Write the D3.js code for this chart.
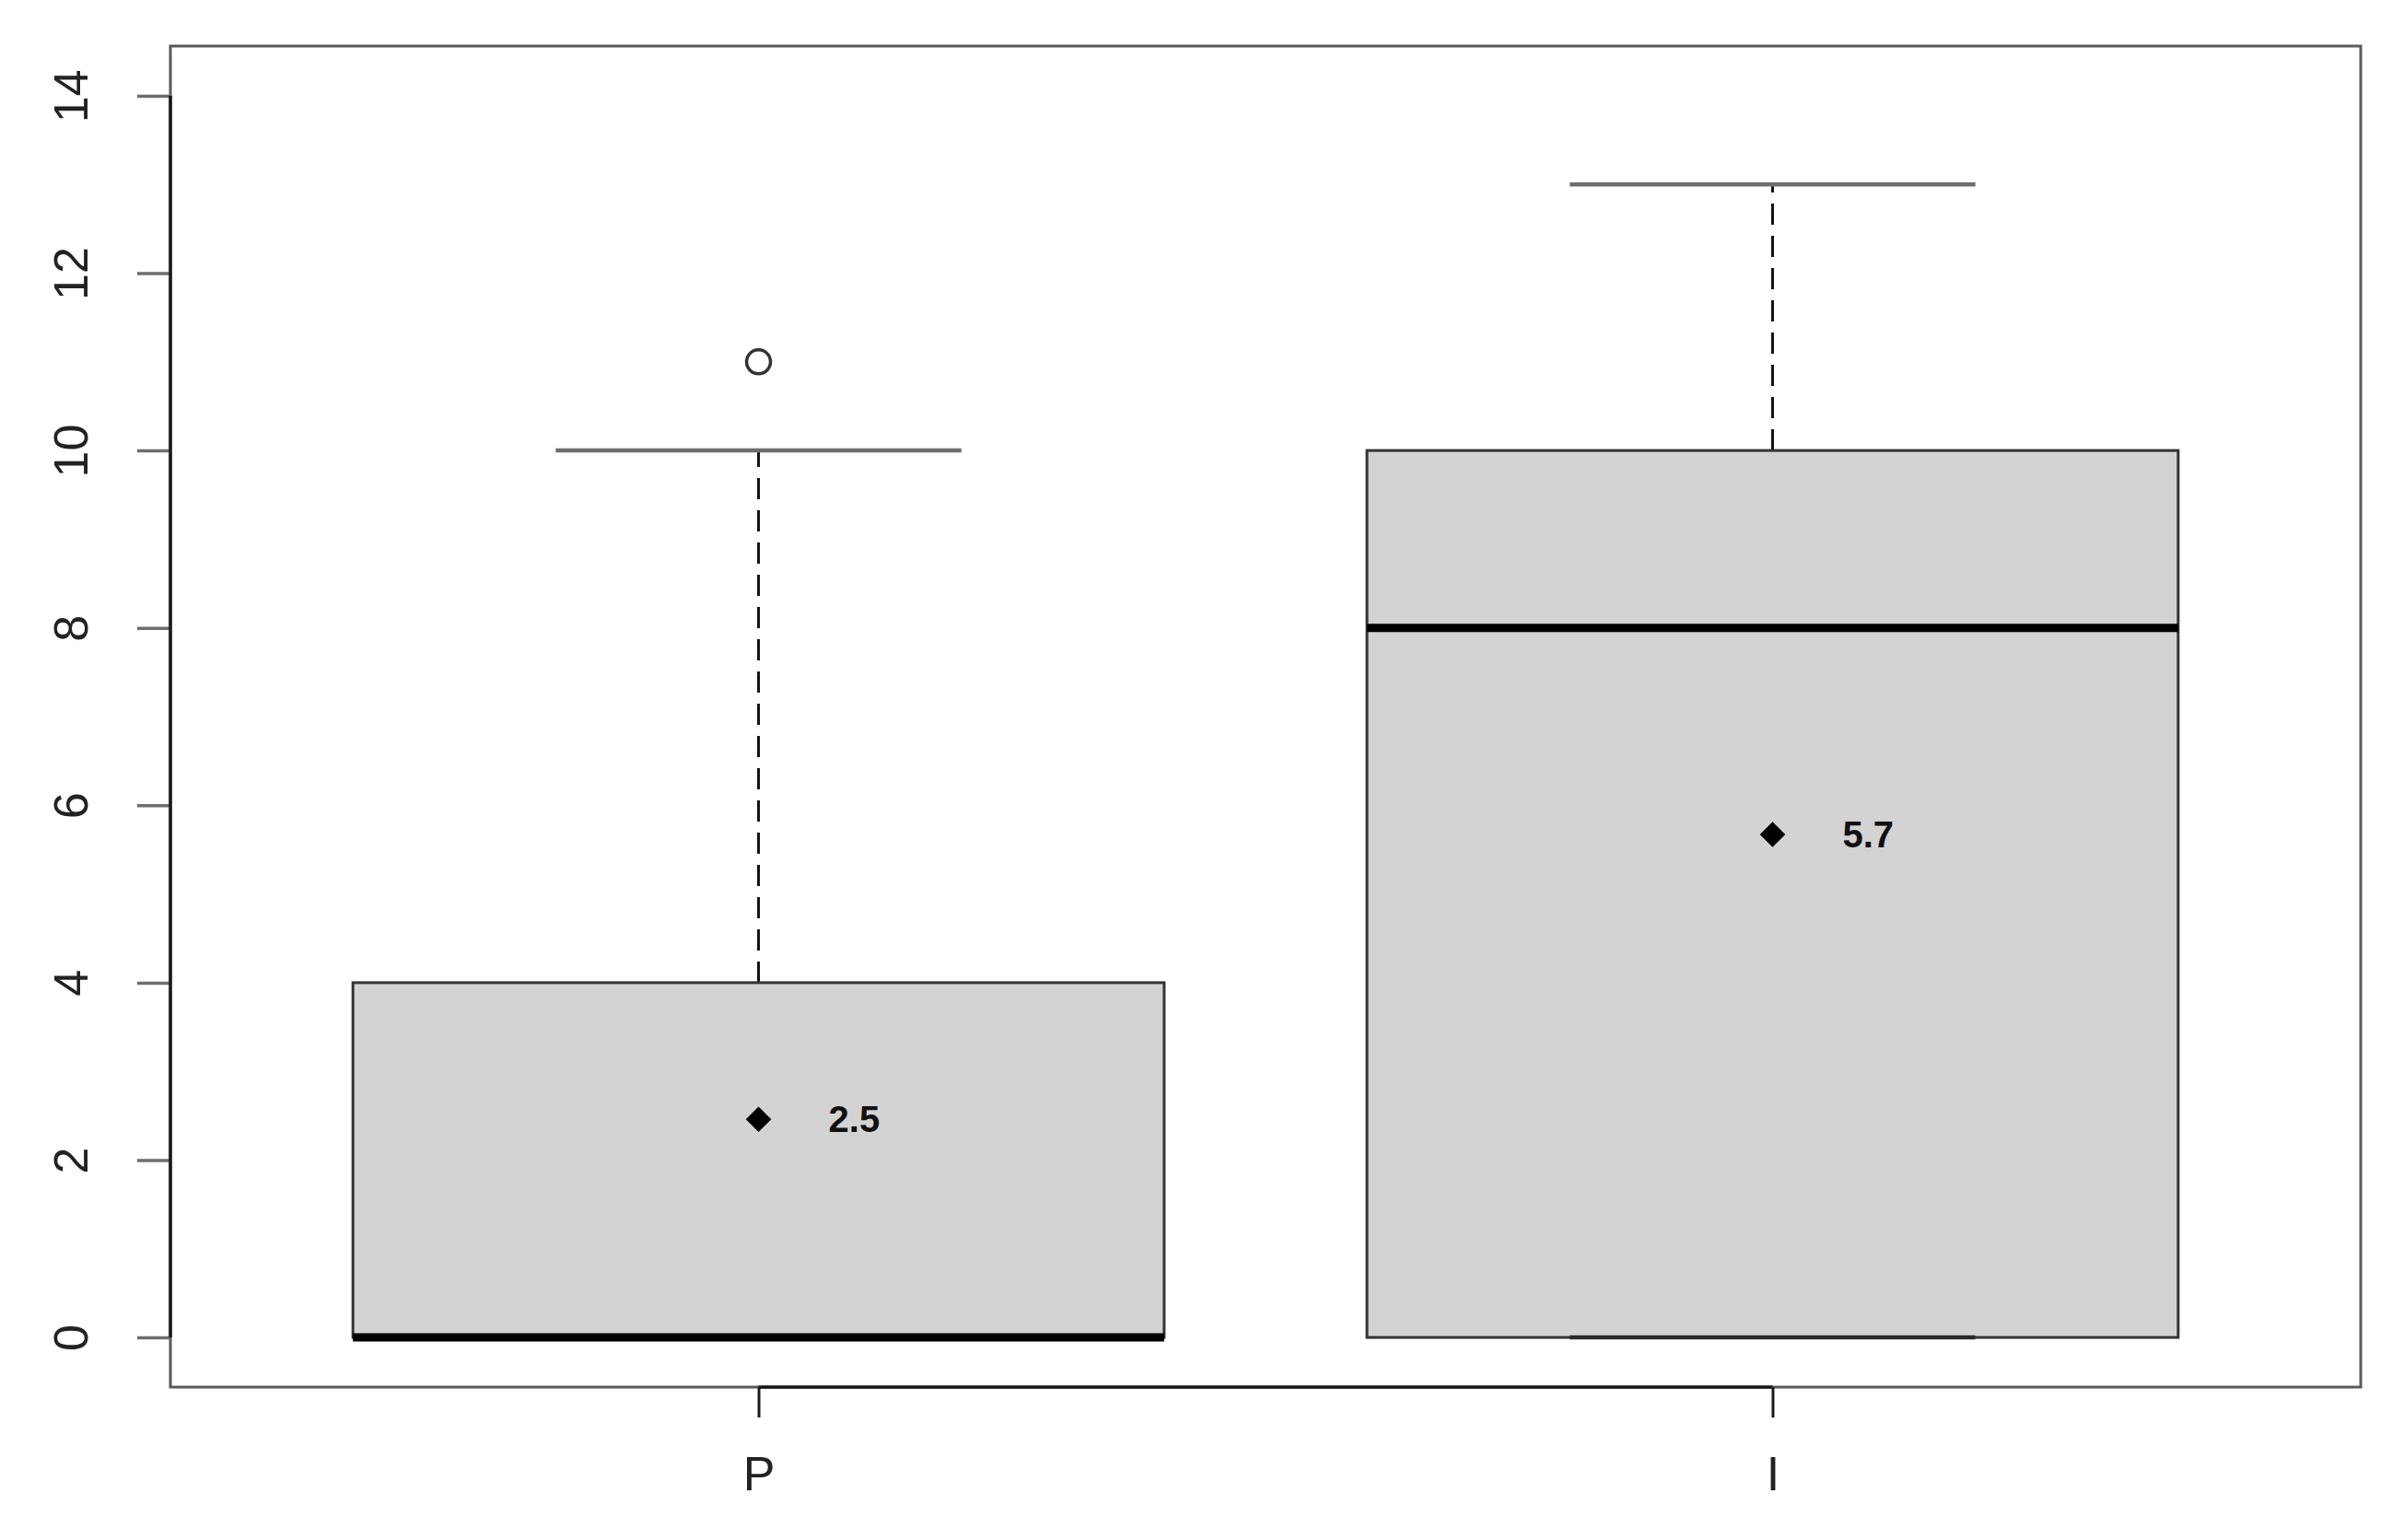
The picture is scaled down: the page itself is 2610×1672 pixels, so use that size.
<!DOCTYPE html>
<html>
<head>
<meta charset="utf-8">
<script src="https://cdn.jsdelivr.net/npm/d3@7"></script>
<style>
  html, body { margin: 0; padding: 0; background: #fff; }
  svg { display: block; font-family: "Liberation Sans", Arial, sans-serif; }
</style>
</head>
<body>
<svg id="chart" width="2610" height="1672"></svg>
<script>
// groups and their five-number summaries
const groups = ["P", "I"]
const lowerWhisker = [0, 0]
const lowerQuartile = [0, 0]
const medians = [0, 8]
const upperQuartile = [4, 10]
const upperWhisker = [10, 13]
const outliers = [[11], []]
const means = [2.46, 5.67]
const meanLabels = ["2.5", "5.7"]
const yTicks = [0, 2, 4, 6, 8, 10, 12, 14]

const W = 2610, H = 1672
const plot = { left: 185, right: 2563, top: 50, bottom: 1506 }

const svg = d3.select("#chart")
svg.append("rect").attr("width", W).attr("height", H).attr("fill", "#fff")

// R style: xlim 0.5..2.5 and ylim 0..14, both padded by 4%
const x = d3.scaleLinear().domain([0.42, 2.58]).range([plot.left, plot.right])
const y = d3.scaleLinear().domain([-0.56, 14.56]).range([plot.bottom, plot.top])

const boxW = x(1.8) - x(1)   // 0.8 wide boxes
const capW = x(1.4) - x(1)   // 0.4 wide caps

const data = groups.map((g, i) => ({
  name: g,
  pos: i + 1,
  lo: lowerWhisker[i], q1: lowerQuartile[i], med: medians[i],
  q3: upperQuartile[i], hi: upperWhisker[i],
  out: outliers[i], mean: means[i], label: meanLabels[i]
}))

const g = svg.append("g")

data.forEach(d => {
  const cx = x(d.pos)
  // dashed whiskers
  g.append("line")
    .attr("x1", cx).attr("x2", cx)
    .attr("y1", y(d.q3)).attr("y2", y(d.hi))
    .attr("stroke", "#111").attr("stroke-width", 3)
    .attr("stroke-dasharray", "23 12")
  g.append("line")
    .attr("x1", cx).attr("x2", cx)
    .attr("y1", y(d.q1)).attr("y2", y(d.lo))
    .attr("stroke", "#111").attr("stroke-width", 3)
    .attr("stroke-dasharray", "23 12")
  // box
  g.append("rect")
    .attr("x", cx - boxW / 2).attr("width", boxW)
    .attr("y", y(d.q3)).attr("height", y(d.q1) - y(d.q3))
    .attr("fill", "#d3d3d3")
    .attr("stroke", "#333").attr("stroke-width", 3)
  // caps
  ;[d.hi, d.lo].forEach(v => {
    g.append("line")
      .attr("x1", cx - capW / 2).attr("x2", cx + capW / 2)
      .attr("y1", y(v)).attr("y2", y(v))
      .attr("stroke", v === d.q1 ? "#2a2a2a" : "#6e6e6e").attr("stroke-width", 4.5)
  })
  // median
  g.append("line")
    .attr("x1", cx - boxW / 2).attr("x2", cx + boxW / 2)
    .attr("y1", y(d.med)).attr("y2", y(d.med))
    .attr("stroke", "#000").attr("stroke-width", 9)
  // outliers
  d.out.forEach(v => {
    g.append("circle")
      .attr("cx", cx).attr("cy", y(v)).attr("r", 13)
      .attr("fill", "none").attr("stroke", "#333").attr("stroke-width", 3.5)
  })
  // mean diamond + label
  g.append("path")
    .attr("d", d3.symbol(d3.symbolSquare, 380)())
    .attr("transform", `translate(${cx},${y(d.mean)}) rotate(45)`)
    .attr("fill", "#000")
  g.append("text")
    .attr("x", cx + 76).attr("y", y(d.mean))
    .attr("dy", "0.35em")
    .attr("font-size", 40).attr("font-weight", "bold")
    .attr("fill", "#111")
    .text(d.label)
})

// plot frame
svg.append("rect")
  .attr("x", plot.left).attr("y", plot.top)
  .attr("width", plot.right - plot.left).attr("height", plot.bottom - plot.top)
  .attr("fill", "none").attr("stroke", "#5a5a5a").attr("stroke-width", 3)

// left axis
const yAxis = svg.append("g")
  .attr("transform", `translate(${plot.left},0)`)
  .call(d3.axisLeft(y).tickValues(yTicks).tickSize(36).tickPadding(0).tickFormat(d3.format("d")))
yAxis.select(".domain").remove()
yAxis.append("line")
  .attr("x1", 0).attr("x2", 0)
  .attr("y1", y(yTicks[0])).attr("y2", y(yTicks[yTicks.length - 1]))
  .attr("stroke", "#1a1a1a").attr("stroke-width", 3.5)
yAxis.selectAll(".tick line").attr("stroke", "#6e6e6e").attr("stroke-width", 3.5)
yAxis.selectAll(".tick text")
  .attr("x", 0).attr("dy", 0)
  .attr("transform", "translate(-108,0) rotate(-90)")
  .attr("text-anchor", "middle")
  .attr("dominant-baseline", "central")
  .attr("font-size", 52).attr("fill", "#222")
  .style("font-family", "'Liberation Sans', Arial, sans-serif")

// bottom axis
const xAxis = svg.append("g")
  .attr("transform", `translate(0,${plot.bottom})`)
  .call(d3.axisBottom(x).tickValues(data.map(d => d.pos)).tickSize(33).tickPadding(42)
    .tickFormat((v, i) => groups[i]))
xAxis.select(".domain").remove()
xAxis.append("line")
  .attr("x1", x(1)).attr("x2", x(groups.length))
  .attr("y1", 0).attr("y2", 0)
  .attr("stroke", "#1a1a1a").attr("stroke-width", 3.5)
xAxis.selectAll(".tick line").attr("stroke", "#1a1a1a").attr("stroke-width", 3)
xAxis.selectAll(".tick text")
  .attr("font-size", 52).attr("fill", "#222")
  .style("font-family", "'Liberation Sans', Arial, sans-serif")
</script>
</body>
</html>
